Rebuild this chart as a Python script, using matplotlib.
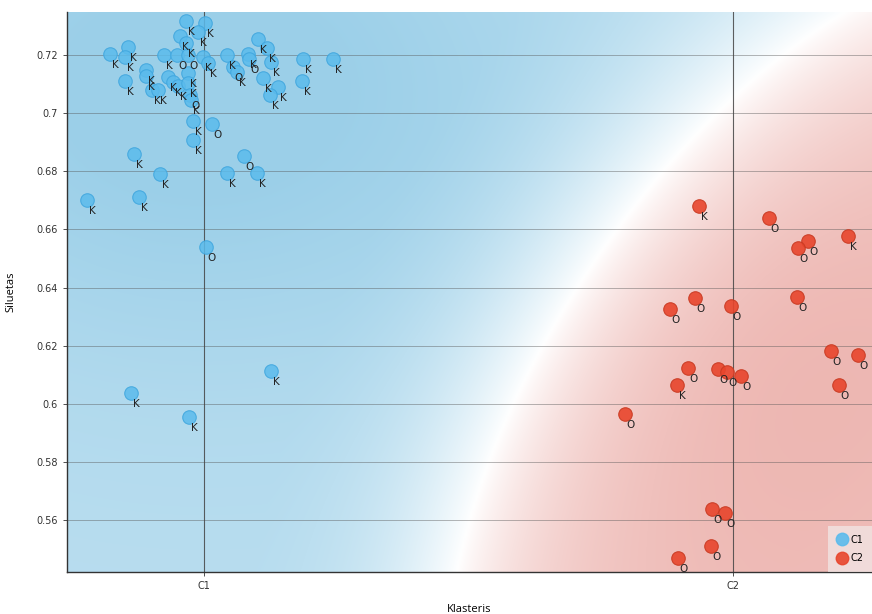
import numpy as np
import matplotlib
matplotlib.use("Agg")
import matplotlib.pyplot as plt
from matplotlib.lines import Line2D

clusters = ["C1", "C2"]

# C1 points: jittered cluster position, silhouette value, label
c1_x = [-0.034, 0.002, -0.011, -0.045, -0.034, -0.178, -0.144, -0.149, -0.110, -0.110,
        -0.149, -0.098, -0.087, -0.076, -0.051, -0.030, -0.002, 0.008, -0.068, -0.059,
        -0.049, -0.030, -0.030, -0.026, -0.025, 0.043, 0.083, 0.085, 0.055, 0.062,
        0.102, 0.119, 0.127, 0.112, 0.140, 0.125, 0.187, 0.244, 0.185, -0.021,
        0.015, -0.021, -0.132, 0.076, -0.083, 0.043, 0.100, -0.221, -0.123, 0.004,
        0.127, -0.138, -0.028]
c1_y = [0.7317, 0.7310, 0.7279, 0.7265, 0.7241, 0.7203, 0.7228, 0.7193, 0.7148, 0.7128,
        0.7111, 0.7080, 0.7080, 0.7200, 0.7200, 0.7200, 0.7193, 0.7172, 0.7124, 0.7107,
        0.7093, 0.7138, 0.7104, 0.7062, 0.7045, 0.7200, 0.7203, 0.7186, 0.7159, 0.7141,
        0.7255, 0.7224, 0.7176, 0.7121, 0.7090, 0.7062, 0.7186, 0.7186, 0.7111, 0.6973,
        0.6963, 0.6908, 0.6859, 0.6852, 0.6790, 0.6794, 0.6794, 0.6701, 0.6711, 0.6539,
        0.6113, 0.6037, 0.5954]
c1_lab = ["K", "K", "K", "K", "K", "K", "K", "K", "K", "K",
          "K", "K", "K", "K", "O", "O", "K", "K", "K", "K",
          "K", "K", "K", "O", "K", "K", "K", "O", "O", "K",
          "K", "K", "K", "K", "K", "K", "K", "K", "K", "K",
          "O", "K", "K", "O", "K", "K", "K", "K", "K", "O",
          "K", "K", "K"]

# C2 points
c2_x = [0.936, 1.068, 1.142, 1.123, 1.217, 0.881, 0.928, 0.996, 1.121, 0.915,
        0.894, 0.972, 0.989, 1.015, 1.185, 1.236, 1.200, 0.796, 0.960, 0.985,
        0.958, 0.896]
c2_y = [0.6680, 0.6639, 0.6560, 0.6536, 0.6577, 0.6326, 0.6364, 0.6336, 0.6367, 0.6123,
        0.6064, 0.6119, 0.6109, 0.6095, 0.6181, 0.6168, 0.6064, 0.5965, 0.5638, 0.5624,
        0.5510, 0.5469]
c2_lab = ["K", "O", "O", "O", "K", "O", "O", "O", "O", "O",
          "K", "O", "O", "O", "O", "O", "O", "O", "O", "O",
          "O", "O"]

y_ticks = [0.56, 0.58, 0.6, 0.62, 0.64, 0.66, 0.68, 0.7, 0.72]
y_tick_labels = ["0.56", "0.58", "0.6", "0.62", "0.64", "0.66", "0.68", "0.7", "0.72"]

blue = "#5bbbec"
red = "#e8452c"

xlim = (-0.259, 1.263)
ylim = (0.5421, 0.7348)

fig = plt.figure(figsize=(8.72, 6.14), dpi=100)
ax = fig.add_axes([0.0768, 0.0684, 0.9232, 0.9120])

# class probability background (kernel in screen space, wider for C1)
gx = np.linspace(xlim[0], xlim[1], 300)
gy = np.linspace(ylim[0], ylim[1], 220)
GX, GY = np.meshgrid(gx, gy)
sx, sy = 529.0, 2906.0


def weight(px, py, sig_x, sig_y):
    px = np.asarray(px)[:, None, None]
    py = np.asarray(py)[:, None, None]
    d2 = (((GX[None] - px) * sx) / sig_x) ** 2 + (((GY[None] - py) * sy) / sig_y) ** 2
    return np.exp(-d2 / 2).sum(axis=0)


w1 = weight(c1_x, c1_y, 240.0, 170.0)
w2 = weight(c2_x, c2_y, 145.0, 130.0)
p = w1 / (w1 + w2 + 1e-12)
a = np.clip(np.abs(2 * p - 1) * 1.05, 0, 1) ** 0.85 * 0.58
dens = (w1 + w2) / np.percentile(w1 + w2, 90)
a = a * (0.7 + 0.3 * np.clip(dens, 0, 1))
c_blue = np.array([0.33, 0.68, 0.85])
c_red = np.array([0.85, 0.38, 0.34])
base = np.where((p > 0.5)[..., None], c_blue, c_red)
img = 1 - a[..., None] * (1 - base)
ax.imshow(img, extent=[xlim[0], xlim[1], ylim[0], ylim[1]], origin="lower",
          aspect="auto", interpolation="bilinear", zorder=0)

for yv in y_ticks:
    ax.axhline(yv, color="#555555", lw=0.6, alpha=0.5, zorder=1)
for xv in range(len(clusters)):
    ax.axvline(xv, color="#444444", lw=0.8, alpha=0.85, zorder=1)

ax.scatter(c1_x, c1_y, s=95, color=blue, alpha=0.85, edgecolors="#3fa6de",
           linewidths=0.8, zorder=3)
ax.scatter(c2_x, c2_y, s=95, color=red, alpha=0.9, edgecolors="#c93a22",
           linewidths=0.8, zorder=3)

for xs, ys, labs in [(c1_x, c1_y, c1_lab), (c2_x, c2_y, c2_lab)]:
    for xv, yv, t in zip(xs, ys, labs):
        ax.annotate(t, (xv, yv), xytext=(4, -8), textcoords="offset points",
                    ha="center", va="center", fontsize=7.5, color="#222222", zorder=4)

ax.set_xlim(*xlim)
ax.set_ylim(*ylim)
ax.set_xticks(range(len(clusters)))
ax.set_xticklabels(clusters)
ax.set_yticks(y_ticks)
ax.set_yticklabels(y_tick_labels)
ax.tick_params(axis="both", labelsize=7, colors="#333333", length=3, width=0.6)
for s in ["top", "right"]:
    ax.spines[s].set_visible(False)
for s in ["left", "bottom"]:
    ax.spines[s].set_color("#333333")
    ax.spines[s].set_linewidth(1.0)

ax.set_xlabel("Klasteris", fontsize=8, labelpad=9, family="Open Sans")
ax.set_ylabel("Siluetas", fontsize=8, labelpad=14, family="Open Sans")

handles = [Line2D([], [], marker="o", ls="", color=blue, markersize=9, alpha=0.9),
           Line2D([], [], marker="o", ls="", color=red, markersize=9, alpha=0.9)]
leg = ax.legend(handles, clusters, loc="lower right", fontsize=7, frameon=True,
                handletextpad=0.2, borderpad=0.9, labelspacing=0.9,
                borderaxespad=0.0, handlelength=1.2)
leg.get_frame().set_facecolor("#f2f2f2")
leg.get_frame().set_alpha(0.6)
leg.get_frame().set_edgecolor("none")
leg.get_frame().set_boxstyle("square", pad=0)

fig.savefig("out.png", dpi=100)
